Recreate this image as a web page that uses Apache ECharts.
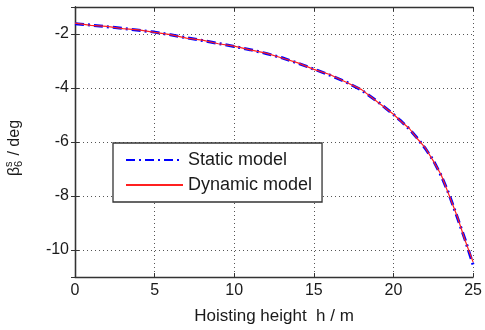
<!DOCTYPE html>
<html>
<head>
<meta charset="utf-8">
<script src="https://cdn.jsdelivr.net/npm/echarts@6/dist/echarts.min.js"></script>
<style>
html,body{margin:0;padding:0;background:#fff;}
#chart{width:485px;height:330px;}
</style>
</head>
<body>
<div id="chart"></div>
<script>
// Hoisting height h (m)
var hoistHeight = [0, 1, 2, 3, 4, 5, 6, 7, 8, 9, 10, 11, 12, 13, 14, 15, 16, 17, 18, 19, 20, 20.5, 21, 21.5, 22, 22.5, 23, 23.5, 24, 24.5, 25];
// beta_6^s (deg), static model
var staticModel = [-1.62, -1.67, -1.73, -1.79, -1.86, -1.93, -2.03, -2.14, -2.24, -2.35, -2.46, -2.58, -2.72, -2.88, -3.08, -3.30, -3.52, -3.77, -4.08, -4.50, -4.98, -5.24, -5.52, -5.86, -6.24, -6.68, -7.25, -7.95, -8.78, -9.62, -10.55];
// beta_6^s (deg), dynamic model
var dynamicModel = [-1.60, -1.68, -1.72, -1.80, -1.85, -1.94, -2.02, -2.15, -2.23, -2.36, -2.45, -2.59, -2.71, -2.89, -3.07, -3.31, -3.50, -3.78, -4.06, -4.52, -4.97, -5.25, -5.50, -5.88, -6.22, -6.70, -7.22, -7.98, -8.75, -9.65, -10.45];
var seriesNames = ['Static model', 'Dynamic model'];
var xTitle = 'Hoisting height  h / m';

function pairs(xs, ys){ return xs.map(function(x,i){ return [x, ys[i]]; }); }

var FONT = 'Liberation Sans, Arial, sans-serif';
var AX = '#333';
var TXT = '#1a1a1a';
var chart = echarts.init(document.getElementById('chart'));
chart.setOption({
  animation: false,
  backgroundColor: '#fff',
  grid: { left: 75, right: 8, top: 7, bottom: 50, containLabel: false },
  xAxis: [{
    type: 'value', min: 0, max: 25, interval: 5,
    name: xTitle, nameLocation: 'middle', nameGap: 31,
    nameTextStyle: { fontFamily: FONT, fontSize: 17, color: TXT },
    axisLine: { show: true, lineStyle: { color: AX, width: 1.3 } },
    axisTick: { show: true, inside: true, length: 4, lineStyle: { color: AX } },
    axisLabel: { fontFamily: FONT, fontSize: 16, color: TXT, margin: 6 },
    splitLine: { show: true, lineStyle: { color: '#555', type: [1, 3], width: 1 } }
  }, {
    type: 'value', min: 0, max: 25, interval: 5, position: 'top',
    axisLine: { show: true, lineStyle: { color: AX, width: 1.3 } },
    axisTick: { show: true, inside: true, length: 4, lineStyle: { color: AX } },
    axisLabel: { show: false }, splitLine: { show: false }
  }],
  yAxis: [{
    type: 'value', min: -11, max: -1, splitNumber: 5,
    axisLine: { show: true, lineStyle: { color: AX, width: 1.3 } },
    axisTick: { show: true, inside: true, length: 4, lineStyle: { color: AX } },
    axisLabel: { fontFamily: FONT, fontSize: 16, color: TXT, margin: 6, showMinLabel: false, showMaxLabel: false },
    splitLine: { show: true, lineStyle: { color: '#555', type: [1, 3], width: 1 } }
  }, {
    type: 'value', min: -11, max: -1, splitNumber: 5, position: 'right',
    axisLine: { show: true, lineStyle: { color: AX, width: 1.3 } },
    axisTick: { show: true, inside: true, length: 4, lineStyle: { color: AX } },
    axisLabel: { show: false }, splitLine: { show: false }
  }],
  legend: {
    orient: 'vertical', left: 113, top: 143, align: 'left',
    padding: [8, 10, 8, 12],
    itemWidth: 57, itemHeight: 18, itemGap: 7,
    borderColor: '#333', borderWidth: 1.3, backgroundColor: '#fff',
    itemStyle: { opacity: 0 },
    textStyle: { fontFamily: FONT, fontSize: 18, color: TXT, lineHeight: 18 },
    data: seriesNames
  },
  series: [{
    name: seriesNames[0], type: 'line', xAxisIndex: 0, yAxisIndex: 0,
    data: pairs(hoistHeight, staticModel),
    symbol: 'none', showSymbol: false,
    lineStyle: { color: '#0000ff', width: 3, type: [9, 4, 2, 4] },
    itemStyle: { color: '#0000ff' }
  }, {
    name: seriesNames[1], type: 'line', xAxisIndex: 0, yAxisIndex: 0,
    data: pairs(hoistHeight, dynamicModel),
    symbol: 'none', showSymbol: false,
    lineStyle: { color: '#ff2020', width: 1.2, type: 'solid' },
    itemStyle: { color: '#ff2020' }
  }],
  graphic: [{
    type: 'group', x: 15, y: 176, rotation: Math.PI / 2,
    children: [
      { type: 'text', x: 0, y: 0, style: { text: 'β', fontFamily: FONT, fontSize: 16, fill: TXT, align: 'left', verticalAlign: 'middle' } },
      { type: 'text', x: 9, y: 4, style: { text: '6', fontFamily: FONT, fontSize: 11, fill: TXT, align: 'left', verticalAlign: 'middle' } },
      { type: 'text', x: 9, y: -6, style: { text: 's', fontFamily: FONT, fontSize: 11, fill: TXT, align: 'left', verticalAlign: 'middle' } },
      { type: 'text', x: 16, y: 0, style: { text: ' / deg', fontFamily: FONT, fontSize: 16, fill: TXT, align: 'left', verticalAlign: 'middle' } }
    ]
  }]
});
</script>
</body>
</html>
